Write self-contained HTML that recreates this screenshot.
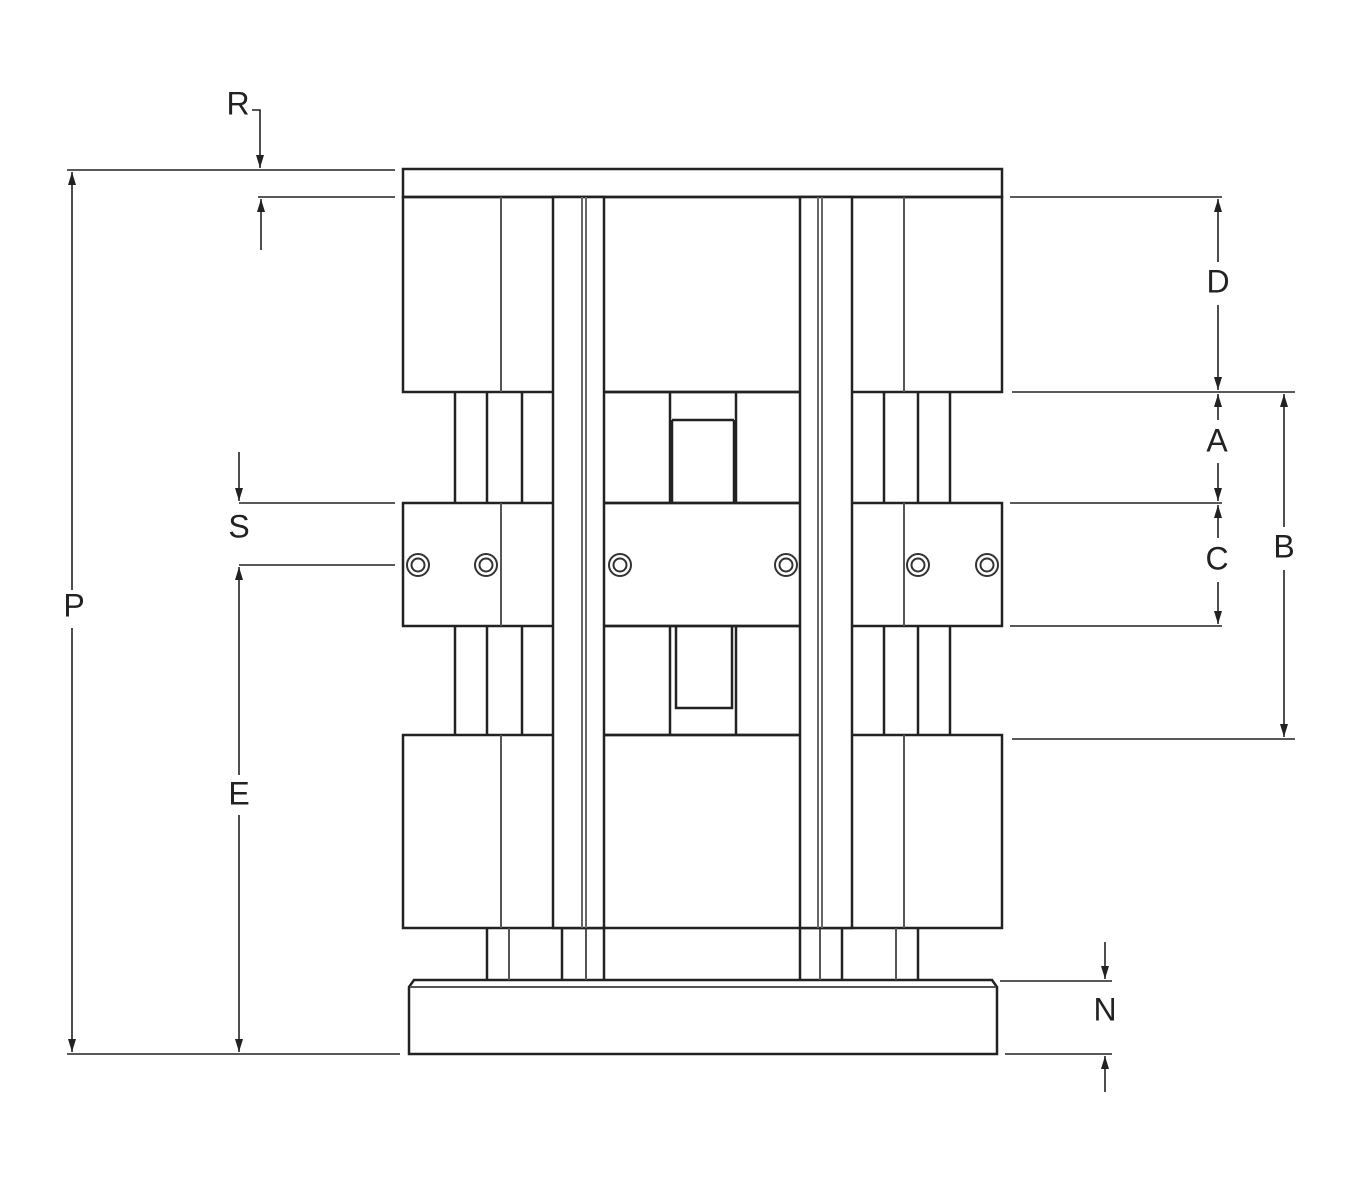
<!DOCTYPE html>
<html><head><meta charset="utf-8"><style>html,body{margin:0;padding:0;background:#fff}svg{display:block}text{font-family:"Liberation Sans",sans-serif;font-size:32px;fill:#222;text-anchor:middle;dominant-baseline:middle}</style></head><body>
<svg width="1360" height="1200" viewBox="0 0 1360 1200" xmlns="http://www.w3.org/2000/svg">
<defs><marker id="a" viewBox="0 0 10 10" refX="10" refY="5" markerWidth="13" markerHeight="8" orient="auto-start-reverse" markerUnits="userSpaceOnUse" preserveAspectRatio="none"><path d="M0,0L10,5L0,10z" fill="#222"/></marker></defs>
<g fill="none" stroke="#222" stroke-width="2.5">
<rect x="403" y="169" width="599" height="28"/>
<rect x="403" y="197" width="599" height="195"/>
<rect x="403" y="503" width="599" height="123"/>
<rect x="403" y="735" width="599" height="193"/>
<path d="M455 392V503M487 392V503M522 392V503M455 626V735M487 626V735M522 626V735"/>
<path d="M950 392V503M918 392V503M884 392V503M950 626V735M918 626V735M884 626V735"/>
<path d="M604 392H800M604 503H800M604 626H800M604 735H800"/>
<path d="M670 392V503M736 392V503M672 420H734M672 420V503M734 420V503"/>
<path d="M670 626V735M736 626V735M676 626V708H732V626"/>
<path d="M487 928V980M562 928V980M604 928V980M800 928V980M842 928V980M918 928V980"/>
<path d="M409 987L414 980H992L997 987V1054H409Z"/>
</g>
<g fill="none" stroke="#555" stroke-width="2">
<path d="M501 197V392M501 503V626M501 735V928M904 197V392M904 503V626M904 735V928"/>
<path d="M509 928V980M586 928V980M820 928V980M896 928V980M410 987H996"/>
</g>
<g fill="#fff" stroke="#222" stroke-width="2.5">
<rect x="553" y="197" width="51" height="731"/>
<rect x="800" y="197" width="52" height="731"/>
</g>
<g fill="none" stroke="#666" stroke-width="2"><path d="M582 197V928M586 197V928M818 197V928M822 197V928"/></g>
<g fill="#fff" stroke="#333" stroke-width="2">
<circle cx="418" cy="565" r="11"/><circle cx="418" cy="565" r="6.5"/>
<circle cx="486" cy="565" r="11"/><circle cx="486" cy="565" r="6.5"/>
<circle cx="620" cy="565" r="11"/><circle cx="620" cy="565" r="6.5"/>
<circle cx="786" cy="565" r="11"/><circle cx="786" cy="565" r="6.5"/>
<circle cx="918" cy="565" r="11"/><circle cx="918" cy="565" r="6.5"/>
<circle cx="987" cy="565" r="11"/><circle cx="987" cy="565" r="6.5"/>
</g>
<g stroke="#222" stroke-width="1.6" fill="none">
<path d="M67 170H395M67 1054H400M258 197H395M239 503H395M239 565H395"/>
<path d="M1010 197H1222M1012 392H1295M1010 503H1222M1010 626H1222M1012 739H1295M1000 981H1112M1005 1054H1112"/>
<path d="M72 172V590M72 628V1052" marker-start="url(#a)" marker-end="url(#a)"/>
<path d="M252 110H260V168" marker-end="url(#a)"/>
<path d="M261 250V199" marker-end="url(#a)"/>
<path d="M239 452V501" marker-end="url(#a)"/>
<path d="M239 567V775M239 815V1052" marker-start="url(#a)" marker-end="url(#a)"/>
<path d="M1218 199V262" marker-start="url(#a)"/><path d="M1218 305V390" marker-end="url(#a)"/>
<path d="M1218 394V420" marker-start="url(#a)"/><path d="M1218 463V501" marker-end="url(#a)"/>
<path d="M1218 505V538" marker-start="url(#a)"/><path d="M1218 582V624" marker-end="url(#a)"/>
<path d="M1284 394V527" marker-start="url(#a)"/><path d="M1284 570V737" marker-end="url(#a)"/>
<path d="M1105 942V979" marker-end="url(#a)"/>
<path d="M1105 1092V1056" marker-end="url(#a)"/>
</g>
<text x="238" y="106">R</text>
<text x="74" y="608">P</text>
<text x="239" y="529">S</text>
<text x="239" y="796">E</text>
<text x="1218" y="284">D</text>
<text x="1217" y="443">A</text>
<text x="1217" y="561">C</text>
<text x="1284" y="549">B</text>
<text x="1105" y="1012">N</text>
</svg>
</body></html>
